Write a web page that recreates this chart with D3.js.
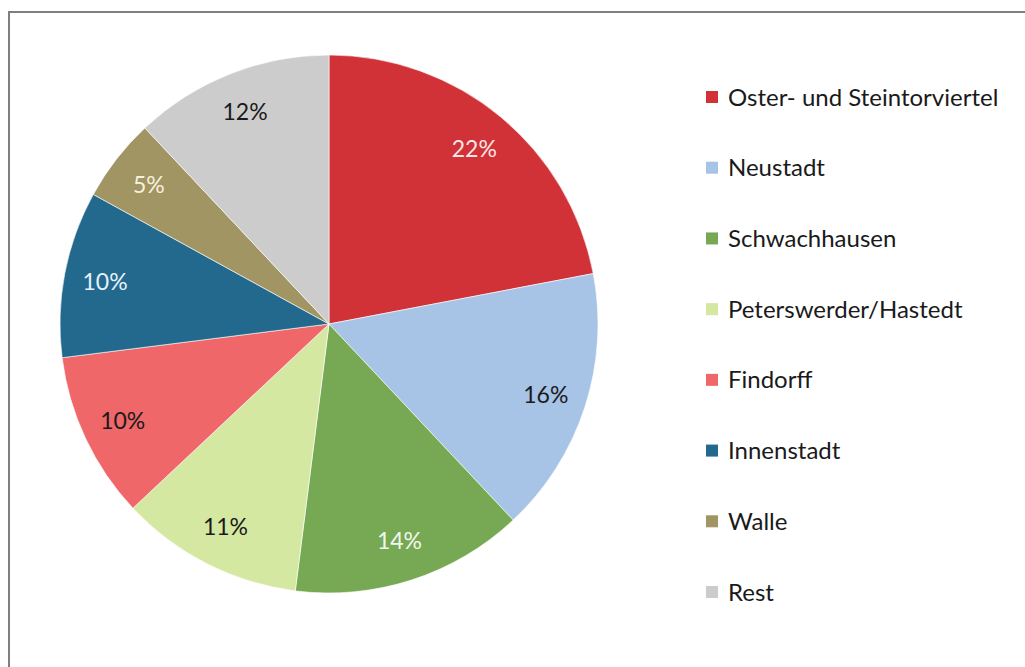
<!DOCTYPE html>
<html>
<head>
<meta charset="utf-8">
<script src="https://cdn.jsdelivr.net/npm/d3@7"></script>
<style>
  html, body { margin: 0; background: #fff; overflow: hidden; }
  svg { display: block; }
  text { font-family: Lato, "Open Sans", sans-serif; }
</style>
</head>
<body>
<div id="vis"></div>
<script>
// districts and shares (percent)
var districts = ["Oster- und Steintorviertel", "Neustadt", "Schwachhausen", "Peterswerder/Hastedt",
  "Findorff", "Innenstadt", "Walle", "Rest"];
var shares = [22, 16, 14, 11, 10, 10, 5, 12];
var colors = ["#d03237", "#a7c3e6", "#77a954", "#d5e8a2", "#f0676a", "#23698d", "#a19563", "#cccccc"];
var labelColors = ["#fbe6e6", "#1a1a1a", "#f2f7ee", "#1a1a1a", "#1a1a1a", "#e4f2fa", "#f6f1de", "#1a1a1a"];

var W = 1025, H = 667;
var cx = 329, cy = 324, R = 269;

var svg = d3.select("#vis").append("svg")
  .attr("width", W).attr("height", H);

// frame: only the top and left edges fall inside the picture
svg.append("path")
  .attr("d", "M9," + H + "V12H" + W)
  .attr("fill", "none")
  .attr("stroke", "#7f7f7f")
  .attr("stroke-width", 2);

var data = districts.map(function(d, i) { return { name: d, value: shares[i], i: i }; });

var pie = d3.pie().sort(null).value(function(d) { return d.value; });
var arc = d3.arc().innerRadius(0).outerRadius(R);
var labelArc = d3.arc().innerRadius(228).outerRadius(228);

var g = svg.append("g").attr("transform", "translate(" + cx + "," + cy + ")");

var arcs = pie(data);

g.selectAll("path.slice")
  .data(arcs)
  .enter().append("path")
  .attr("class", "slice")
  .attr("d", arc)
  .attr("fill", function(d) { return colors[d.data.i]; })
  .attr("stroke", "#fff")
  .attr("stroke-width", 0.6);

g.selectAll("text.lbl")
  .data(arcs)
  .enter().append("text")
  .attr("class", "lbl")
  .attr("transform", function(d) { return "translate(" + labelArc.centroid(d) + ")"; })
  .attr("text-anchor", "middle")
  .attr("dy", "0.36em")
  .attr("font-size", 23)
  .attr("fill", function(d) { return labelColors[d.data.i]; })
  .text(function(d) { return d.data.value + "%"; });

// legend
var ly = d3.scaleLinear().domain([0, districts.length - 1]).range([97, 592]);

var leg = svg.selectAll("g.leg")
  .data(data)
  .enter().append("g")
  .attr("class", "leg")
  .attr("transform", function(d) { return "translate(706," + ly(d.i) + ")"; });

leg.append("rect")
  .attr("x", 0).attr("y", -6)
  .attr("width", 12).attr("height", 12)
  .attr("fill", function(d) { return colors[d.i]; });

leg.append("text")
  .attr("x", 22)
  .attr("dy", "0.36em")
  .attr("font-size", 24)
  .attr("fill", "#1a1a1a")
  .text(function(d) { return d.name; });
</script>
</body>
</html>
